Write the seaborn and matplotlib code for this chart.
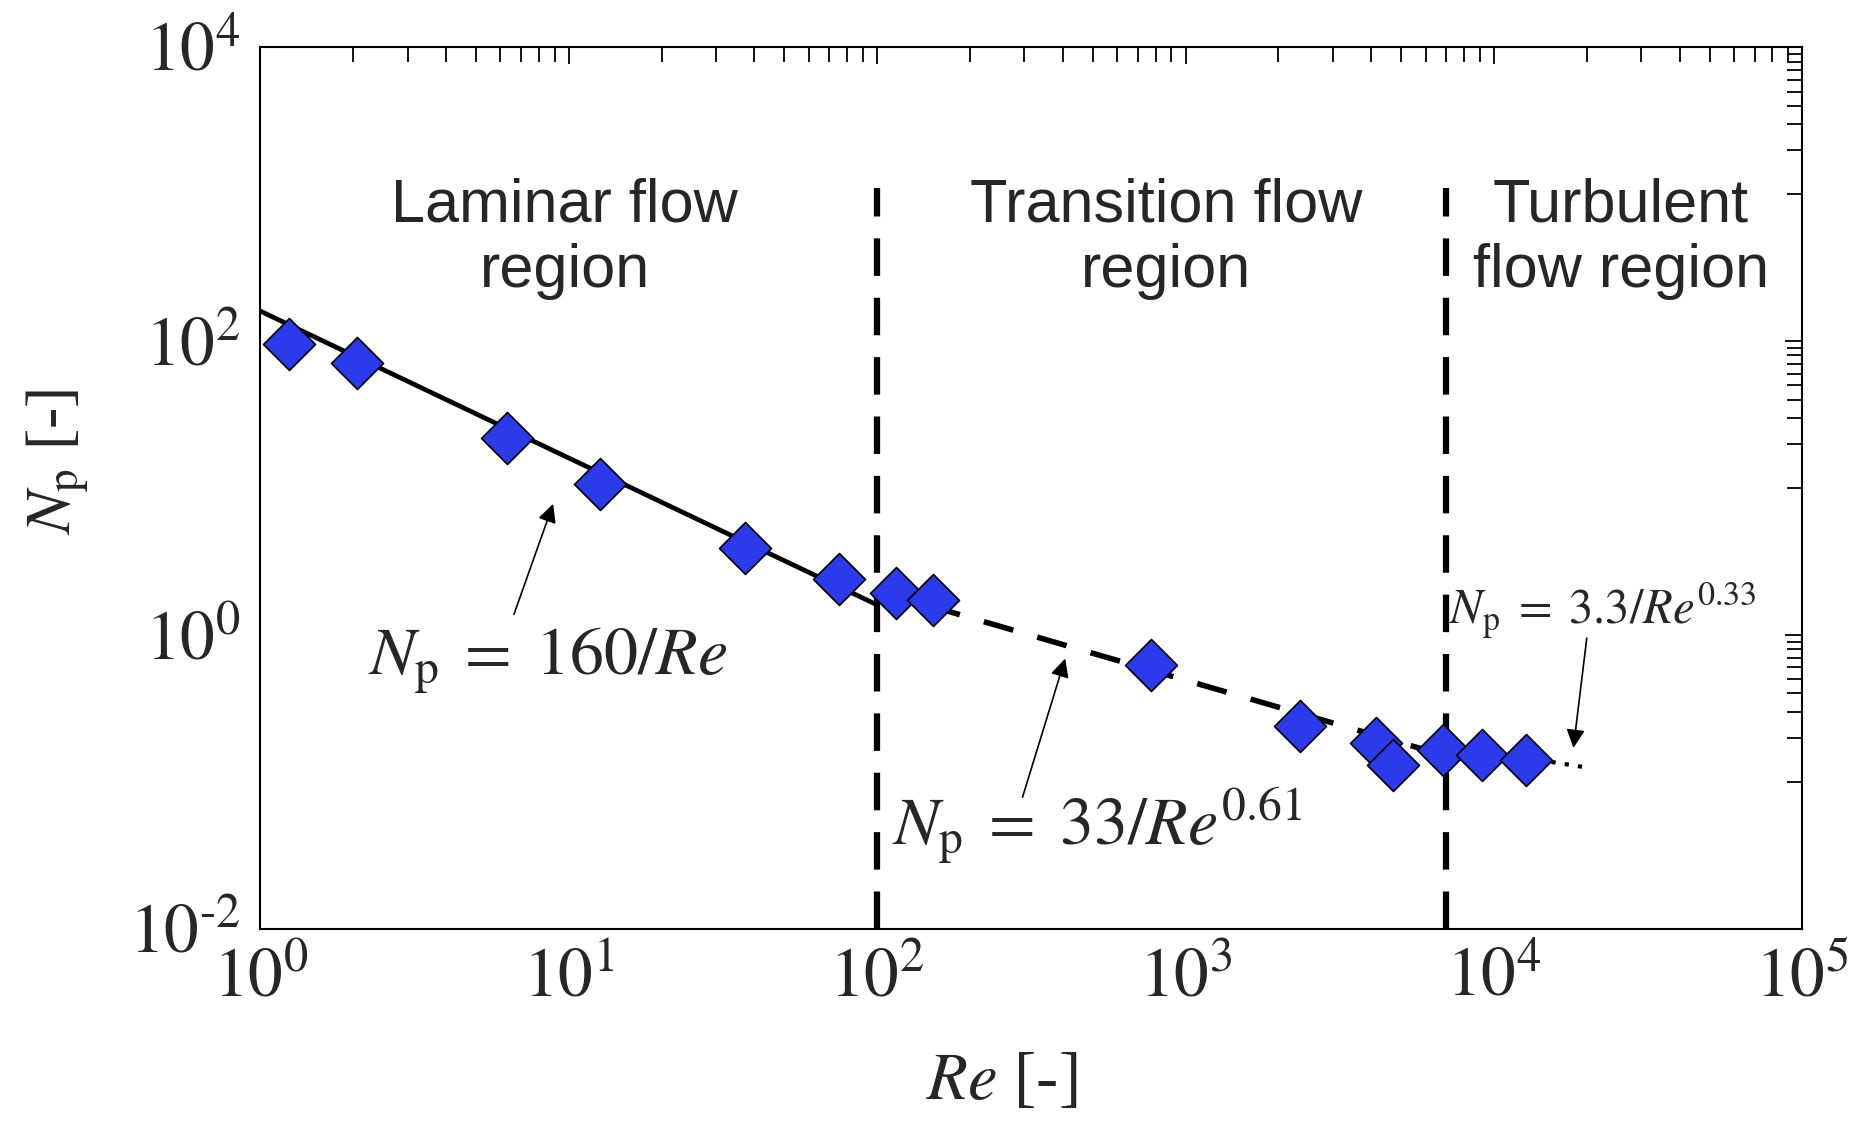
import matplotlib
matplotlib.use("Agg")
import matplotlib.pyplot as plt
import seaborn as sns
import numpy as np
import pandas as pd
from matplotlib.ticker import LogLocator, NullFormatter, FixedLocator

# ---- data ----
re_vals = [1.24, 2.05, 6.3, 12.6, 37.3, 75, 115, 152, 770, 2350, 4140, 4720, 6840, 9170, 12700]
np_vals = [95, 71, 22, 10.6, 3.9, 2.4, 1.92, 1.72, 0.62, 0.24, 0.185, 0.13, 0.165, 0.153, 0.14]

laminar_re = [1, 100]
laminar_np = [160, 1.6]
transition_re = [100, 7000]
transition_np = [2.0, 0.15]
turbulent_re = [7000, 20000]
turbulent_np = [0.177, 0.125]

boundary_re = [100, 7000]
boundary_top = 1100

region_labels = ["Laminar flow\nregion", "Transition flow\nregion", "Turbulent\nflow region"]
region_x = [9.7, 864, 25800]
region_y = 500

x_ticks = [1, 10, 100, 1000, 10000, 100000]
x_ticklabels = [r"$10^{0}$", r"$10^{1}$", r"$10^{2}$", r"$10^{3}$", r"$10^{4}$", r"$10^{5}$"]
y_ticks = [0.01, 1, 100, 10000]
y_ticklabels = [r"$10^{\text{-}2}$", r"$10^{0}$", r"$10^{2}$", r"$10^{4}$"]
y_minor_decades = [-1, 1, 3]

sns.set_style("white")
plt.rcParams['font.family'] = ['Liberation Serif', 'DejaVu Serif']
plt.rcParams['mathtext.fontset'] = 'stix'

fig = plt.figure(figsize=(18.6, 11.27), dpi=100)
ax = fig.add_axes([0.140, 0.176, 0.829, 0.782])

df = pd.DataFrame({"Re": re_vals, "Np": np_vals})

# fit lines
sns.lineplot(x=laminar_re, y=laminar_np, ax=ax, color="black", lw=3.4, zorder=2)
ax.plot(transition_re, transition_np, color="black", lw=4.0, ls=(0, (5.5, 4.5)), zorder=2)
ax.plot(turbulent_re, turbulent_np, color="black", lw=3.0, ls=(0, (1, 2.2)), zorder=2)

# boundaries
for bx in boundary_re:
    ax.plot([bx, bx], [0.01, boundary_top], color="black", lw=4.5, ls=(0, (6, 3.5)), zorder=1)

sns.scatterplot(data=df, x="Re", y="Np", ax=ax, marker="D", s=700, color="#2B3BEB",
                edgecolor="black", linewidth=1.2, zorder=3)

ax.set_xscale("log")
ax.set_yscale("log")
ax.set_xlim(1, 1e5)
ax.set_ylim(1e-2, 1e4)

ax.xaxis.set_major_locator(FixedLocator(x_ticks))
ax.set_xticklabels(x_ticklabels)
ax.yaxis.set_major_locator(FixedLocator(y_ticks))
ax.set_yticklabels(y_ticklabels)
ax.xaxis.set_minor_locator(LogLocator(base=10, subs=np.arange(2, 10), numticks=100))
y_minor = [m * 10.0 ** d for d in y_minor_decades for m in range(1, 10)]
ax.yaxis.set_minor_locator(FixedLocator(y_minor))
ax.xaxis.set_minor_formatter(NullFormatter())
ax.yaxis.set_minor_formatter(NullFormatter())

ax.tick_params(which="both", direction="in", top=True, right=True, width=1.3, color="black")
ax.tick_params(which="major", length=12, labelsize=50, pad=14)
ax.tick_params(which="minor", length=11)
for s in ax.spines.values():
    s.set_color("black")
    s.set_linewidth(1.5)

ax.set_xlabel(r"$Re$ [-]", fontsize=48)
ax.xaxis.set_label_coords(0.481, -0.14)
ax.set_ylabel(r"$N_\mathrm{p}$ [-]", fontsize=46)
ax.yaxis.set_label_coords(-0.11, 0.53)

for lab, xx in zip(region_labels, region_x):
    ax.text(xx, region_y, lab, ha="center", va="center", fontsize=44,
            family=["Liberation Sans", "DejaVu Sans"], linespacing=1.2)

ax.text(2.24, 0.667, r"$N_\mathrm{p}\;=\;160/Re$", fontsize=49, ha="left", va="center")
ax.text(112, 0.05, r"$N_\mathrm{p}\;=\;33/Re^{0.61}$", fontsize=49, ha="left", va="center")
ax.text(7160, 1.45, r"$N_\mathrm{p}\;=\;3.3/Re^{0.33}$", fontsize=35, ha="left", va="center")

ap = dict(arrowstyle="-|>", lw=1.2, color="black", mutation_scale=28, shrinkA=0, shrinkB=0)
ax.annotate("", xy=(8.9, 7.8), xytext=(6.64, 1.38), arrowprops=ap)
ax.annotate("", xy=(407, 0.69), xytext=(296, 0.0785), arrowprops=ap)
ax.annotate("", xy=(18100, 0.17), xytext=(20000, 0.95), arrowprops=ap)

fig.savefig("out.png", dpi=100)
